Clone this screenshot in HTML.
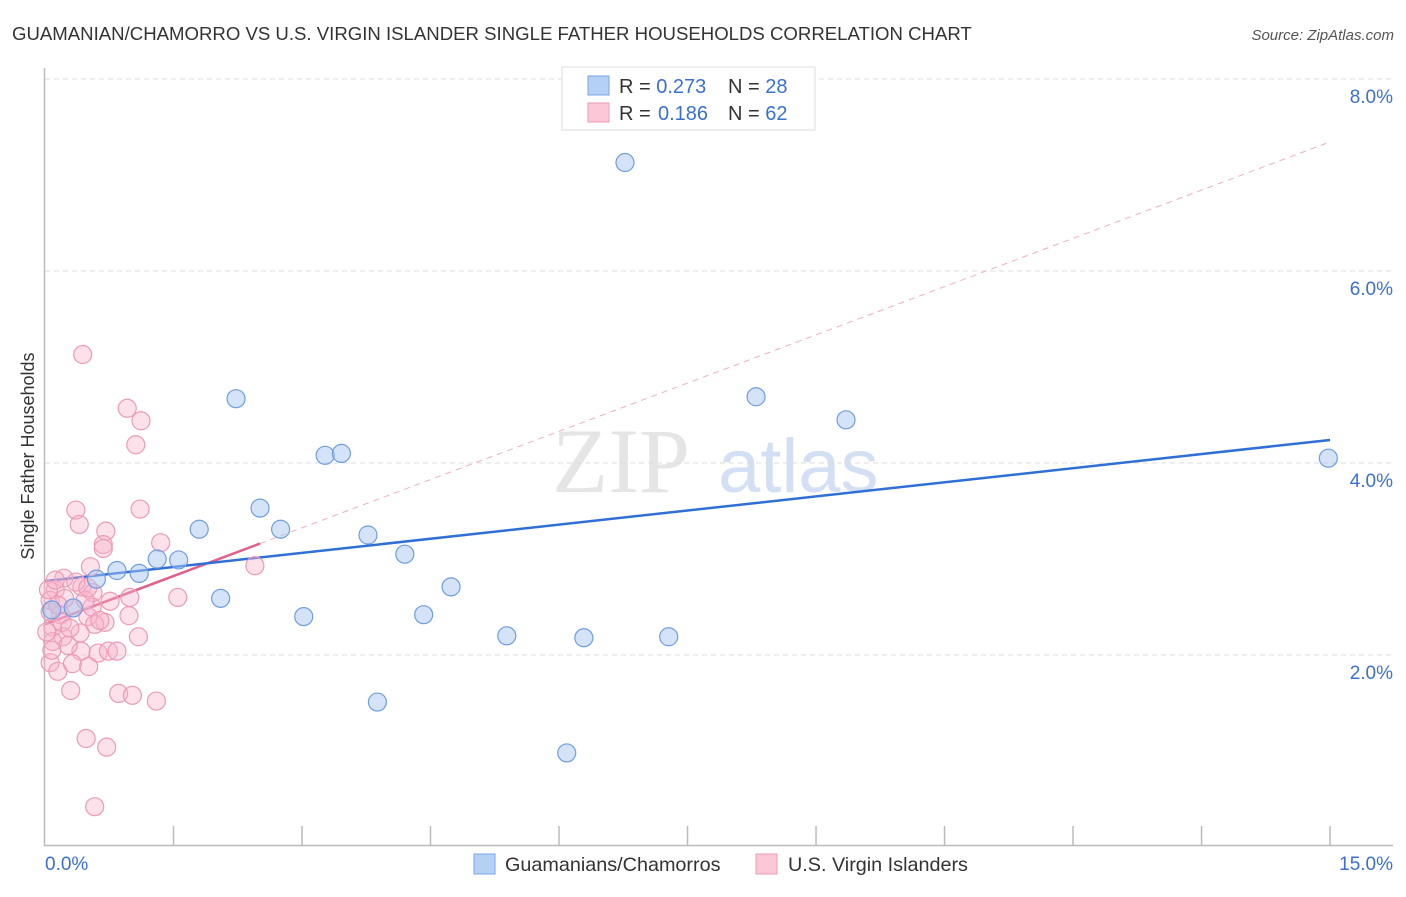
<!DOCTYPE html>
<html><head><meta charset="utf-8"><style>
body{margin:0;background:#fff;font-family:"Liberation Sans",sans-serif}
</style></head><body>
<svg id="chart" width="1406" height="892" xmlns="http://www.w3.org/2000/svg" font-family="Liberation Sans, sans-serif">
<text x="12" y="40" font-size="18.6" fill="#333">GUAMANIAN/CHAMORRO VS U.S. VIRGIN ISLANDER SINGLE FATHER HOUSEHOLDS CORRELATION CHART</text>
<text x="1394" y="40" font-size="15" fill="#555" font-style="italic" text-anchor="end">Source: ZipAtlas.com</text>
<text transform="translate(34,456) rotate(-90)" font-size="18" fill="#333" text-anchor="middle">Single Father Households</text>
<g opacity="0.5"><text x="552" y="492" font-size="92" font-family="Liberation Serif, serif" fill="#ccc">ZIP</text><text x="718" y="492" font-size="76" fill="#a9c3ea">atlas</text></g>
<g id="grid"></g><g id="axes"></g><g id="trends"></g><g id="pts"></g>
<g>
<rect x="562" y="67" width="253" height="63" fill="#fff" stroke="#ddd"/>
<rect x="588" y="76" width="21" height="19" fill="#b5d0f5" stroke="#7aa6e6"/>
<rect x="588" y="103" width="21" height="19" fill="#fcc8d8" stroke="#ee9ab4"/>
<text x="619" y="93" font-size="20" fill="#333">R = <tspan fill="#3a70d0">0.273</tspan><tspan x="728">N = </tspan><tspan fill="#3a70d0">28</tspan></text>
<text x="619" y="120" font-size="20" fill="#333">R = <tspan fill="#3a70d0" x="658">0.186</tspan><tspan x="728">N = </tspan><tspan fill="#3a70d0">62</tspan></text>
</g>
<g>
<rect x="474" y="854" width="21" height="20" fill="#b5d0f5" stroke="#7aa6e6"/>
<text x="505" y="871" font-size="19.8" fill="#333">Guamanians/Chamorros</text>
<rect x="756" y="854" width="21" height="20" fill="#fcc8d8" stroke="#ee9ab4"/>
<text x="788" y="871" font-size="19.8" fill="#333">U.S. Virgin Islanders</text>
</g>
</svg>
<script>
const yTicks=[2,4,6,8];
const xTickLabels=["0.0%","15.0%"];
const blueX=[6.77,2.23,8.30,9.35,3.27,3.46,14.98,2.51,1.80,2.75,3.77,4.20,1.31,1.56,0.84,1.10,0.60,4.74,2.05,3.02,4.42,5.39,6.29,7.28,3.88,6.09,0.33,0.08];
const blueY=[7.13,4.67,4.69,4.45,4.08,4.10,4.05,3.53,3.31,3.31,3.25,3.05,3.00,2.99,2.88,2.85,2.79,2.71,2.59,2.40,2.42,2.20,2.18,2.19,1.51,0.98,2.49,2.47];
const pinkX=[0.36,0.40,0.71,0.68,0.68,1.11,1.35,0.53,0.22,2.45,1.55,0.99,0.76,0.12,0.06,0.43,0.56,0.18,0.33,0.50,0.70,0.58,0.98,0.41,0.09,0.21,0.09,1.09,0.42,0.62,0.74,0.84,0.06,0.15,0.32,0.51,0.30,0.86,1.02,1.30,0.48,0.72,0.58,0.44,0.96,1.12,1.06,0.04,0.06,0.12,0.20,0.29,0.02,0.55,0.64,0.47,0.23,0.15,0.36,0.50,0.27,0.08];
const pinkY=[3.51,3.36,3.29,3.15,3.11,3.52,3.17,2.92,2.80,2.93,2.60,2.60,2.56,2.68,2.57,2.71,2.65,2.42,2.49,2.40,2.34,2.32,2.41,2.23,2.29,2.19,2.14,2.19,2.04,2.02,2.04,2.04,1.92,1.83,1.91,1.88,1.63,1.60,1.58,1.52,1.13,1.04,0.42,5.13,4.57,4.44,4.19,2.68,2.45,2.78,2.34,2.28,2.24,2.50,2.36,2.57,2.59,2.52,2.76,2.70,2.10,2.05];
const blueTrend=[2.77,4.24];
const pinkTrend=[2.32,0.335,2.51];
const NS="http://www.w3.org/2000/svg";
const X=v=>45+v*85.67, Y=v=>79+(8-v)*96;
function mk(parent,tag,attrs){const e=document.createElementNS(NS,tag);for(const k in attrs)e.setAttribute(k,attrs[k]);document.getElementById(parent).appendChild(e);return e;}
yTicks.forEach(t=>{
 const l=mk('grid','line',{x1:45,x2:1393,y1:Y(t),y2:Y(t),stroke:'#ddd','stroke-dasharray':'5,4'});
 
 
 const tx=mk('grid','text',{x:1393,y:Y(t)+24,'font-size':19,fill:'#3a70d0','text-anchor':'end'});
 tx.textContent=t.toFixed(1)+'%';
 
 
});
const ax=mk('axes','path',{d:'M44.5 68V845.5H1393',stroke:'#bbb',fill:'none','stroke-width':1.5});


for(let i=1;i<=10;i++){const tk=mk('axes','line',{x1:X(i*1.5),x2:X(i*1.5),y1:826,y2:845,stroke:'#bbb','stroke-width':1.5});
 
 }
const xl0=mk('axes','text',{x:45,y:870,'font-size':19,fill:'#3a70d0'});xl0.textContent=xTickLabels[0];


const xl1=mk('axes','text',{x:1393,y:870,'font-size':19,fill:'#3a70d0','text-anchor':'end'});xl1.textContent=xTickLabels[1];


const pd=mk('trends','line',{x1:X(pinkTrend[2]),y1:Y(pinkTrend[0]+pinkTrend[1]*pinkTrend[2]),x2:X(15),y2:Y(pinkTrend[0]+pinkTrend[1]*15),stroke:'#eab0c2','stroke-width':1,'stroke-dasharray':'6,5'});


const ps=mk('trends','line',{x1:X(0),y1:Y(pinkTrend[0]),x2:X(pinkTrend[2]),y2:Y(pinkTrend[0]+pinkTrend[1]*pinkTrend[2]),stroke:'#e0608a','stroke-width':2.5});


const bl=mk('trends','line',{x1:X(0),y1:Y(blueTrend[0]),x2:X(15),y2:Y(blueTrend[1]),stroke:'#2f6fd6','stroke-width':2.5});


pinkX.forEach((x,i)=>{const c=mk('pts','circle',{cx:X(x),cy:Y(pinkY[i]),r:9,fill:'rgba(248,180,202,0.4)',stroke:'#ec9ab5','stroke-width':1.2});
 
 });
blueX.forEach((x,i)=>{const c=mk('pts','circle',{cx:X(x),cy:Y(blueY[i]),r:9,fill:'rgba(170,200,240,0.5)',stroke:'#6f9de0','stroke-width':1.2});
 
 });
</script>
</body></html>
